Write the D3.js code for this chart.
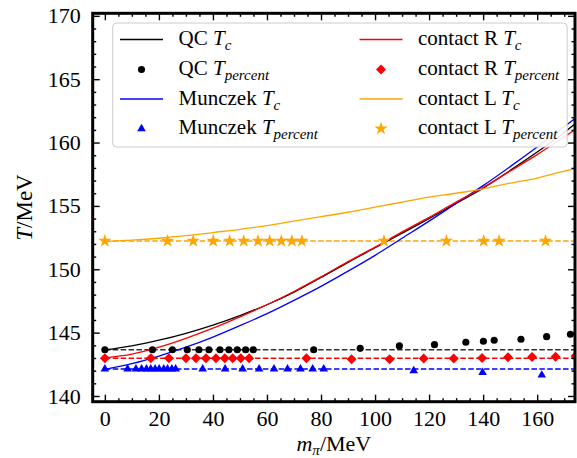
<!DOCTYPE html>
<html>
<head>
<meta charset="utf-8">
<script src="https://cdn.jsdelivr.net/npm/d3@7"></script>
<style>
  body { margin: 0; background: #fff; }
  svg text { font-family: "Liberation Serif", "Times New Roman", Times, "DejaVu Serif", serif; }
</style>
</head>
<body>
<div id="chart"></div>
<script>
// curve samples (m_pi in MeV, T in MeV)
var curveM = [0, 10, 20, 30, 40, 50, 60, 70, 80, 90, 100, 110, 120, 130, 140, 150, 160, 170, 175]
var qcTc = [143.63, 143.95, 144.4, 144.95, 145.6, 146.35, 147.2, 148.2, 149.35, 150.55, 151.7, 152.85, 154.0, 155.2, 156.4, 157.8, 159.25, 160.8, 161.65]
var munTc = [142.1, 142.55, 143.15, 143.85, 144.65, 145.55, 146.5, 147.55, 148.65, 149.85, 151.1, 152.45, 153.8, 155.2, 156.6, 158.1, 159.65, 161.25, 162.05]
var conRTc = [143.0, 143.3, 143.85, 144.55, 145.35, 146.25, 147.2, 148.25, 149.4, 150.6, 151.75, 152.95, 154.1, 155.3, 156.45, 157.75, 159.05, 160.45, 161.15]
var conLTc = [152.2, 152.3, 152.45, 152.65, 152.9, 153.15, 153.45, 153.8, 154.15, 154.5, 154.9, 155.3, 155.7, 156.0, 156.35, 156.8, 157.2, 157.75, 158.0]

// T_percent points
var qcPM = [0, 17.6, 25.0, 30.5, 34.8, 38.5, 42.6, 45.9, 49.0, 52.1, 54.9, 77.3, 94.5, 109.0, 122.0, 133.6, 140.1, 144.1, 154.0, 163.5, 172.3]
var qcPT = [143.65, 143.65, 143.65, 143.65, 143.65, 143.65, 143.65, 143.65, 143.65, 143.65, 143.65, 143.65, 143.76, 143.95, 144.05, 144.24, 144.32, 144.4, 144.48, 144.68, 144.87]
var conRPM = [0, 17.0, 23.7, 30.0, 33.7, 37.4, 41.1, 44.4, 47.3, 50.3, 53.4, 74.6, 91.3, 105.4, 118.0, 129.1, 139.6, 149.2, 158.1, 166.8, 174.2]
var conRPT = [142.97, 142.97, 142.97, 142.97, 142.97, 142.97, 142.97, 142.97, 142.97, 142.97, 142.97, 142.97, 142.9, 142.9, 142.95, 142.95, 143.0, 143.05, 143.08, 143.1, 143.15]
var munPM = [0, 8.4, 11.5, 13.6, 15.4, 17.0, 18.6, 20.1, 21.8, 23.2, 24.8, 26.2, 36.2, 44.5, 51.0, 57.1, 62.6, 67.6, 72.4, 76.9, 81.0, 114.3, 139.8, 161.7]
var munPT = [142.13, 142.13, 142.13, 142.13, 142.13, 142.13, 142.13, 142.13, 142.13, 142.13, 142.13, 142.13, 142.13, 142.13, 142.13, 142.13, 142.13, 142.13, 142.13, 142.13, 142.13, 142.0, 141.85, 141.65]
var conLPM = [0, 23.2, 32.7, 40.1, 46.2, 51.4, 56.7, 61.0, 65.3, 69.2, 72.9, 103.3, 126.4, 140.2, 145.9, 163.1]
var conLPT = [152.23, 152.23, 152.23, 152.23, 152.23, 152.23, 152.23, 152.23, 152.23, 152.23, 152.23, 152.23, 152.23, 152.23, 152.23, 152.23]

// dashed reference levels
var refLevels = [143.65, 142.97, 142.13, 152.23]

var xTicks = [0, 20, 40, 60, 80, 100, 120, 140, 160]
var yTicks = [140, 145, 150, 155, 160, 165, 170]

var W = 577, H = 458
var margin = { top: 13.3, right: 2, bottom: 56.3, left: 92.7 }
var width = W - margin.left - margin.right,
    height = H - margin.top - margin.bottom

var svg = d3.select("#chart").append("svg")
    .attr("width", W).attr("height", H)

var g = svg.append("g")
    .attr("transform", "translate(" + margin.left + "," + margin.top + ")")

var x = d3.scaleLinear().domain([-4.5, 174]).range([0, width])
var y = d3.scaleLinear().domain([139.55, 170.2]).range([height, 0])

svg.append("defs").append("clipPath").attr("id", "plotclip")
    .append("rect").attr("width", width).attr("height", height)

var plot = g.append("g").attr("clip-path", "url(#plotclip)")

var cBlack = "#000000", cRed = "#ff0000", cBlue = "#0000ff", cOrange = "#ffa500"

// dashed lines
var dashColors = [cBlack, cRed, cBlue, cOrange]
refLevels.forEach(function (lv, i) {
    plot.append("line")
        .attr("x1", x(0)).attr("x2", x(180))
        .attr("y1", y(lv)).attr("y2", y(lv))
        .attr("stroke", dashColors[i])
        .attr("stroke-width", 1.5)
        .attr("stroke-dasharray", "5.5,2.4")
        .attr("opacity", i == 0 ? 0.8 : 1)
})

// solid curves
var line = d3.line().x(d => x(d[0])).y(d => y(d[1])).curve(d3.curveMonotoneX)
var curves = [[qcTc, cBlack], [munTc, cBlue], [conRTc, cRed], [conLTc, cOrange]]
curves.forEach(function (c) {
    plot.append("path")
        .datum(curveM.map((m, i) => [m, c[0][i]]))
        .attr("d", line)
        .attr("fill", "none")
        .attr("stroke", c[1])
        .attr("stroke-width", 1.3)
})

// markers
var diamond = {
    draw: function (ctx, size) {
        var r = Math.sqrt(size / 2)
        ctx.moveTo(0, -r); ctx.lineTo(r, 0); ctx.lineTo(0, r); ctx.lineTo(-r, 0); ctx.closePath()
    }
}
var markerSets = [
    [qcPM, qcPT, d3.symbolCircle, 40, cBlack],
    [conRPM, conRPT, diamond, 50, cRed],
    [munPM, munPT, d3.symbolTriangle, 32, cBlue],
    [conLPM, conLPT, d3.symbolStar, 55, cOrange]
]
markerSets.forEach(function (s) {
    plot.selectAll(null)
        .data(s[0].map((m, i) => [m, s[1][i]]))
        .enter().append("path")
        .attr("transform", d => "translate(" + x(d[0]) + "," + y(d[1]) + ")")
        .attr("d", d3.symbol().type(s[2]).size(s[3]))
        .attr("fill", s[4])
})

// axes, ticks inward on all sides
var xMinor = d3.range(0, 175, 5).filter(v => v % 20 != 0)
var yMinor = d3.range(140, 171, 1).filter(v => v % 5 != 0)

function styleAxis(sel) {
    sel.attr("font-family", null)
    sel.select(".domain").remove()
    sel.selectAll("line").attr("stroke", "#000").attr("stroke-width", 1.4)
    sel.selectAll("text").attr("font-size", 22).attr("fill", "#000")
}

g.append("g").attr("transform", "translate(0," + height + ")")
    .call(d3.axisBottom(x).tickValues(xTicks).tickSize(-7).tickPadding(9)).call(styleAxis)
g.append("g").attr("transform", "translate(0," + height + ")")
    .call(d3.axisBottom(x).tickValues(xMinor).tickSize(-3.5).tickFormat("")).call(styleAxis)
g.append("g")
    .call(d3.axisTop(x).tickValues(xTicks).tickSize(-7).tickFormat("")).call(styleAxis)
g.append("g")
    .call(d3.axisTop(x).tickValues(xMinor).tickSize(-3.5).tickFormat("")).call(styleAxis)

g.append("g")
    .call(d3.axisLeft(y).tickValues(yTicks).tickSize(-7).tickPadding(12)).call(styleAxis)
g.append("g")
    .call(d3.axisLeft(y).tickValues(yMinor).tickSize(-3.5).tickFormat("")).call(styleAxis)
g.append("g").attr("transform", "translate(" + width + ",0)")
    .call(d3.axisRight(y).tickValues(yTicks).tickSize(-7).tickFormat("")).call(styleAxis)
g.append("g").attr("transform", "translate(" + width + ",0)")
    .call(d3.axisRight(y).tickValues(yMinor).tickSize(-3.5).tickFormat("")).call(styleAxis)

// frame
g.append("rect")
    .attr("width", width).attr("height", height)
    .attr("fill", "none").attr("stroke", "#000").attr("stroke-width", 3)

// axis labels
var xl = svg.append("text")
    .attr("x", margin.left + width / 2).attr("y", 451)
    .attr("text-anchor", "middle").attr("font-size", 22)
xl.append("tspan").attr("font-style", "italic").text("m")
xl.append("tspan").attr("font-style", "italic").attr("font-size", 15).attr("dy", 4).text("π")
xl.append("tspan").attr("dy", -4).text("/MeV")

var yl = svg.append("text")
    .attr("transform", "translate(32," + (margin.top + height / 2) + ") rotate(-90)")
    .attr("text-anchor", "middle").attr("font-size", 23)
yl.append("tspan").attr("font-style", "italic").text("T")
yl.append("tspan").text("/MeV")

// legend
var leg = svg.append("g")
leg.append("rect")
    .attr("x", 112.7).attr("y", 23).attr("width", 454.5).attr("height", 124)
    .attr("rx", 4).attr("fill", "#fff").attr("fill-opacity", 0.9)
    .attr("stroke", "#cccccc").attr("stroke-width", 1)

var legItems = [
    { col: 0, row: 0, name: "QC ", sub: "c", color: cBlack, type: "line" },
    { col: 0, row: 1, name: "QC ", sub: "percent", color: cBlack, type: "mark", sym: d3.symbolCircle, size: 40 },
    { col: 0, row: 2, name: "Munczek ", sub: "c", color: cBlue, type: "line" },
    { col: 0, row: 3, name: "Munczek ", sub: "percent", color: cBlue, type: "mark", sym: d3.symbolTriangle, size: 32 },
    { col: 1, row: 0, name: "contact R ", sub: "c", color: cRed, type: "line" },
    { col: 1, row: 1, name: "contact R ", sub: "percent", color: cRed, type: "mark", sym: diamond, size: 50 },
    { col: 1, row: 2, name: "contact L ", sub: "c", color: cOrange, type: "line" },
    { col: 1, row: 3, name: "contact L ", sub: "percent", color: cOrange, type: "mark", sym: d3.symbolStar, size: 55 }
]
var colX = [120, 359.5], rowY = [39.5, 69.5, 99, 128.7]
legItems.forEach(function (it) {
    var hx = colX[it.col], hy = rowY[it.row]
    if (it.type == "line") {
        leg.append("line").attr("x1", hx).attr("x2", hx + 43)
            .attr("y1", hy).attr("y2", hy)
            .attr("stroke", it.color).attr("stroke-width", 1.3)
    } else {
        leg.append("path")
            .attr("transform", "translate(" + (hx + 21.5) + "," + hy + ")")
            .attr("d", d3.symbol().type(it.sym).size(it.size))
            .attr("fill", it.color)
    }
    var t = leg.append("text").attr("x", hx + 58.5).attr("y", hy + 5.5).attr("font-size", 21)
    t.append("tspan").text(it.name)
    t.append("tspan").attr("font-style", "italic").text("T")
    t.append("tspan").attr("font-style", "italic").attr("font-size", 15).attr("dy", 5).text(it.sub)
})
</script>
</body>
</html>
